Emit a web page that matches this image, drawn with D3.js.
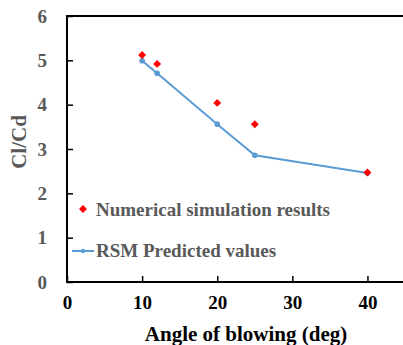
<!DOCTYPE html>
<html>
<head>
<meta charset="utf-8">
<script src="https://cdn.jsdelivr.net/npm/d3@7"></script>
<style>
  body { margin: 0; background: #fff; }
  svg { display: block; }
  text { font-family: "Liberation Serif", "Times New Roman", serif; font-weight: bold; }
</style>
</head>
<body>
<div id="chart"></div>
<script>
// chart data
var angles = [10, 12, 20, 25, 40];
var simValues = [5.12, 4.92, 4.04, 3.56, 2.47];
var rsmValues = [4.99, 4.71, 3.56, 2.86, 2.46];
var xTicks = [0, 10, 20, 30, 40];
var yTicks = [0, 1, 2, 3, 4, 5, 6];

var svgWidth = 403;
var svgHeight = 345;
var margin = { top: 16, right: -2, bottom: 63, left: 67 };
var width = svgWidth - margin.left - margin.right;
var height = svgHeight - margin.top - margin.bottom;

var svg = d3.select("#chart")
  .append("svg")
  .attr("width", svgWidth)
  .attr("height", svgHeight);

var chartGroup = svg.append("g")
  .attr("transform", `translate(${margin.left}, ${margin.top})`);

var xScale = d3.scaleLinear().domain([0, 45]).range([0, width]);
var yScale = d3.scaleLinear().domain([0, 6]).range([height, 0]);

// frame
chartGroup.append("rect")
  .attr("x", 0).attr("y", 0)
  .attr("width", width).attr("height", height)
  .attr("fill", "none")
  .attr("stroke", "#000")
  .attr("stroke-width", 2);

// x axis, ticks pointing inward
var xAxis = chartGroup.append("g")
  .attr("transform", `translate(0, ${height})`)
  .call(d3.axisBottom(xScale).tickValues(xTicks).tickFormat(d3.format("d")).tickSize(-6).tickPadding(14));
xAxis.select(".domain").remove();
xAxis.selectAll("line").attr("stroke", "#000").attr("stroke-width", 1.5);
xAxis.selectAll("text")
  .attr("font-size", "19px")
  .attr("fill", "#000");

// y axis
var yAxis = chartGroup.append("g")
  .call(d3.axisLeft(yScale).tickValues(yTicks).tickFormat(d3.format("d")).tickSize(-6).tickPadding(20));
yAxis.select(".domain").remove();
yAxis.selectAll("line").attr("stroke", "#000").attr("stroke-width", 1.5);
yAxis.selectAll("text")
  .attr("font-size", "19px")
  .attr("fill", "#595959");

// series points
var rsmData = angles.map((a, i) => ({ x: a, y: rsmValues[i] }));
var simData = angles.map((a, i) => ({ x: a, y: simValues[i] }));

chartGroup.append("path")
  .datum(rsmData)
  .attr("fill", "none")
  .attr("stroke", "#5b9bd5")
  .attr("stroke-width", 2)
  .attr("d", d3.line().x(d => xScale(d.x)).y(d => yScale(d.y)));

chartGroup.selectAll(".rsm-dot")
  .data(rsmData)
  .enter()
  .append("circle")
  .attr("class", "rsm-dot")
  .attr("cx", d => xScale(d.x))
  .attr("cy", d => yScale(d.y))
  .attr("r", 2.8)
  .attr("fill", "#5b9bd5");

var diamond = d3.symbol().type(d3.symbolDiamond2).size(40);

chartGroup.selectAll(".sim-dot")
  .data(simData)
  .enter()
  .append("path")
  .attr("class", "sim-dot")
  .attr("transform", d => `translate(${xScale(d.x)}, ${yScale(d.y)})`)
  .attr("d", diamond)
  .attr("fill", "#ff0000");

// legend
var legend = svg.append("g");
legend.append("path")
  .attr("transform", "translate(83, 209)")
  .attr("d", diamond)
  .attr("fill", "#ff0000");
legend.append("text")
  .attr("x", 96).attr("y", 216)
  .attr("font-size", "19px")
  .attr("fill", "#595959")
  .text("Numerical simulation results");

legend.append("line")
  .attr("x1", 72).attr("x2", 94)
  .attr("y1", 251).attr("y2", 251)
  .attr("stroke", "#5b9bd5")
  .attr("stroke-width", 2);
legend.append("circle")
  .attr("cx", 83).attr("cy", 251).attr("r", 2.2)
  .attr("fill", "#5b9bd5");
legend.append("text")
  .attr("x", 96).attr("y", 257)
  .attr("font-size", "19px")
  .attr("fill", "#595959")
  .text("RSM Predicted values");

// axis titles
svg.append("text")
  .attr("x", 246).attr("y", 341)
  .attr("text-anchor", "middle")
  .attr("font-size", "21px")
  .attr("fill", "#000")
  .text("Angle of blowing (deg)");

svg.append("text")
  .attr("transform", "translate(26, 142) rotate(-90)")
  .attr("text-anchor", "middle")
  .attr("font-size", "21px")
  .attr("fill", "#595959")
  .text("Cl/Cd");
</script>
</body>
</html>
